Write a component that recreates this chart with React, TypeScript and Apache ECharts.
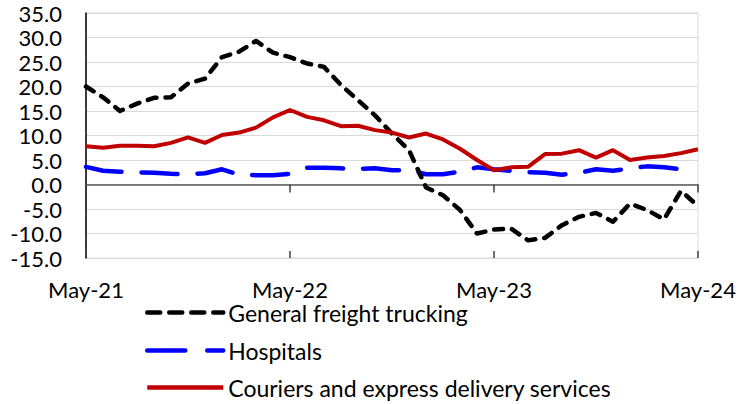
import React, { useEffect, useRef } from "react";
import * as echarts from "echarts";

const months = [
  "May-21", "Jun-21", "Jul-21", "Aug-21", "Sep-21", "Oct-21", "Nov-21", "Dec-21",
  "Jan-22", "Feb-22", "Mar-22", "Apr-22", "May-22", "Jun-22", "Jul-22", "Aug-22",
  "Sep-22", "Oct-22", "Nov-22", "Dec-22", "Jan-23", "Feb-23", "Mar-23", "Apr-23",
  "May-23", "Jun-23", "Jul-23", "Aug-23", "Sep-23", "Oct-23", "Nov-23", "Dec-23",
  "Jan-24", "Feb-24", "Mar-24", "Apr-24", "May-24",
];

const freight = [
  20.0, 17.8, 15.0, 16.5, 17.7, 17.8, 20.6, 21.6, 26.0, 27.1, 29.3, 26.9, 26.0,
  24.7, 24.0, 20.3, 17.2, 14.1, 10.4, 7.0, -0.6, -2.2, -5.2, -10.0, -9.2, -9.0,
  -11.4, -10.9, -8.3, -6.6, -5.8, -7.6, -3.9, -5.2, -7.1, -1.3, -4.4,
];

const hospitals = [
  3.6, 2.8, 2.6, 2.5, 2.4, 2.2, 2.1, 2.3, 3.1, 2.0, 1.9, 1.9, 2.2, 3.4, 3.4, 3.3,
  3.2, 3.3, 2.9, 2.9, 2.1, 2.1, 2.6, 3.5, 3.1, 2.8, 2.5, 2.4, 2.0, 2.4, 3.1, 2.8,
  3.3, 3.7, 3.5, 3.1, null,
];

const couriers = [
  7.8, 7.5, 7.9, 7.9, 7.8, 8.5, 9.6, 8.5, 10.1, 10.6, 11.6, 13.7, 15.2, 13.8, 13.1,
  11.9, 12.0, 11.1, 10.6, 9.6, 10.4, 9.2, 7.3, 5.0, 2.9, 3.5, 3.6, 6.2, 6.3, 7.0,
  5.5, 7.0, 5.0, 5.5, 5.8, 6.4, 7.2,
];

const seriesNames = [
  "General freight trucking",
  "Hospitals",
  "Couriers and express delivery services",
];

const colors = ["#000000", "#0000ff", "#c00000"];
const dashes: any[] = [[9, 9], [36, 20], "solid"];
const legendDashes: any[] = [[13, 9], [38, 22], "solid"];
const legendTops = [301, 339, 376];

const FONT = "Lato";

export default function App() {
  const ref = useRef<HTMLDivElement>(null);
  useEffect(() => {
    if (!ref.current) return;
    const chart = echarts.init(ref.current, null, { renderer: "svg" });
    const legends = seriesNames.map((name, i) => ({
      orient: "vertical",
      left: 145,
      top: legendTops[i],
      padding: 0,
      itemWidth: 76,
      itemHeight: 12,
      data: [name],
      itemStyle: { opacity: 0 },
      lineStyle: { width: 4.5, type: legendDashes[i], cap: i === 2 ? "butt" : "round", color: colors[i] },
      textStyle: { fontSize: 23, lineHeight: 18, fontFamily: FONT, color: "#000" },
    }));
    const option: any = {
      animation: false,
      grid: {
        left: 86,
        right: 54,
        top: 13,
        bottom: 146,
        show: true,
        borderColor: "#d9d9d9",
        borderWidth: 1,
      },
      legend: legends,
      xAxis: [
        {
          type: "category",
          data: months,
          boundaryGap: false,
          position: "bottom",
          axisLine: { show: true, onZero: true, lineStyle: { color: "#595959", width: 1.5 } },
          axisTick: { show: true, interval: 11, length: 8, inside: false, lineStyle: { color: "#404040", width: 1.5 } },
          axisLabel: { show: false },
          splitLine: { show: false },
        },
        {
          type: "category",
          data: months,
          boundaryGap: false,
          position: "bottom",
          axisLine: { show: false, onZero: true },
          axisTick: { show: true, interval: 11, length: 7, inside: true, lineStyle: { color: "#404040", width: 1.5 } },
          axisLabel: { show: false },
          splitLine: { show: false },
        },
        {
          type: "category",
          data: months,
          boundaryGap: false,
          position: "bottom",
          axisLine: { show: false, onZero: false },
          axisTick: { show: false },
          axisLabel: {
            interval: 11,
            margin: 23,
            fontSize: 22,
            lineHeight: 16,
            fontFamily: FONT,
            color: "#000",
          },
          splitLine: { show: false },
        },
      ],
      yAxis: {
        type: "value",
        min: -15,
        max: 35,
        interval: 5,
        axisLine: { show: true, lineStyle: { color: "#000", width: 1.5 } },
        axisTick: { show: false },
        axisLabel: {
          formatter: (v: number) => v.toFixed(1),
          margin: 24,
          fontSize: 22,
          fontFamily: FONT,
          color: "#000",
        },
        splitLine: { show: true, lineStyle: { color: "#d9d9d9", width: 1 } },
      },
      series: [
        {
          name: seriesNames[0],
          type: "line",
          data: freight,
          symbol: "none",
          lineStyle: { color: colors[0], width: 4.5, type: dashes[0], cap: "round", join: "round" },
          itemStyle: { color: colors[0] },
          z: 3,
        },
        {
          name: seriesNames[1],
          type: "line",
          data: hospitals,
          symbol: "none",
          lineStyle: { color: colors[1], width: 4.5, type: dashes[1], cap: "round", join: "round" },
          itemStyle: { color: colors[1] },
          z: 2,
        },
        {
          name: seriesNames[2],
          type: "line",
          data: couriers,
          symbol: "none",
          lineStyle: { color: colors[2], width: 4, type: dashes[2], join: "round" },
          itemStyle: { color: colors[2] },
          z: 4,
        },
      ],
    };
    chart.setOption(option);
    return () => chart.dispose();
  }, []);
  return (
    <div
      ref={ref}
      style={{ position: "absolute", left: 0, top: 0, width: 752, height: 404 }}
    />
  );
}
